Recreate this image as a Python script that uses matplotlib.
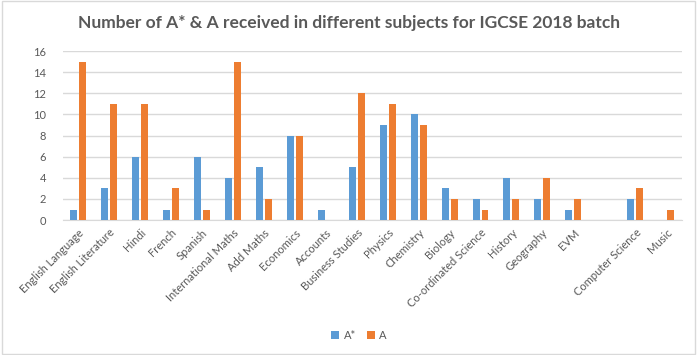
import numpy as np
import matplotlib.pyplot as plt

subjects = ['English Language', 'English Literature', 'Hindi', 'French', 'Spanish',
            'International Maths', 'Add Maths', 'Economics', 'Accounts', 'Business Studies',
            'Physics', 'Chemistry', 'Biology', 'Co-ordinated Science', 'History',
            'Geography', 'EVM', '', 'Computer Science', 'Music']
a_star = [1, 3, 6, 1, 6, 4, 5, 8, 1, 5, 9, 10, 3, 2, 4, 2, 1, 0, 2, 0]
a_grade = [15, 11, 11, 3, 1, 15, 2, 8, 0, 12, 11, 9, 2, 1, 2, 4, 2, 0, 3, 1]

text_color = '#595959'
plt.rcParams['font.family'] = ['Lato', 'DejaVu Sans']

fig = plt.figure(figsize=(6.97, 3.55), dpi=100)
ax = fig.add_axes([0.090, 0.380, 0.888, 0.476])

x = np.arange(len(subjects))
w = 0.226
ax.bar(x - 0.145, a_star, width=w, color='#5B9BD5', label='A*', zorder=3)
ax.bar(x + 0.145, a_grade, width=w, color='#ED7D31', label='A', zorder=3)

ax.set_xlim(-0.5, len(subjects) - 0.5)
ax.set_ylim(0, 16)
ax.set_yticks(range(0, 17, 2))
ax.yaxis.grid(True, color='#d9d9d9', linewidth=1, zorder=0)
ax.set_xticks(x)
ax.set_xticklabels(subjects, rotation=45, ha='right', rotation_mode='anchor',
                   fontsize=8, color=text_color)
ax.tick_params(axis='y', labelsize=8, labelcolor=text_color, length=0, pad=12)
ax.tick_params(axis='x', length=0, pad=5)
for side in ['top', 'right', 'left']:
    ax.spines[side].set_visible(False)
ax.spines['bottom'].set_color('#d9d9d9')

fig.text(0.5, 0.935, 'Number of A* & A received in different subjects for IGCSE 2018 batch',
         ha='center', va='center', fontsize=12.5, fontweight='bold', color=text_color)

fig.legend(loc='center', bbox_to_anchor=(0.515, 0.055), ncol=2, frameon=False,
           fontsize=8, handlelength=0.7, handleheight=0.7, handletextpad=0.4,
           columnspacing=1.0, labelcolor=text_color)

border = plt.Rectangle((0.003, 0.003), 0.994, 0.994, transform=fig.transFigure,
                       fill=False, edgecolor='#d9d9d9', linewidth=1)
fig.patches.append(border)

fig.savefig('out.png', dpi=100)
